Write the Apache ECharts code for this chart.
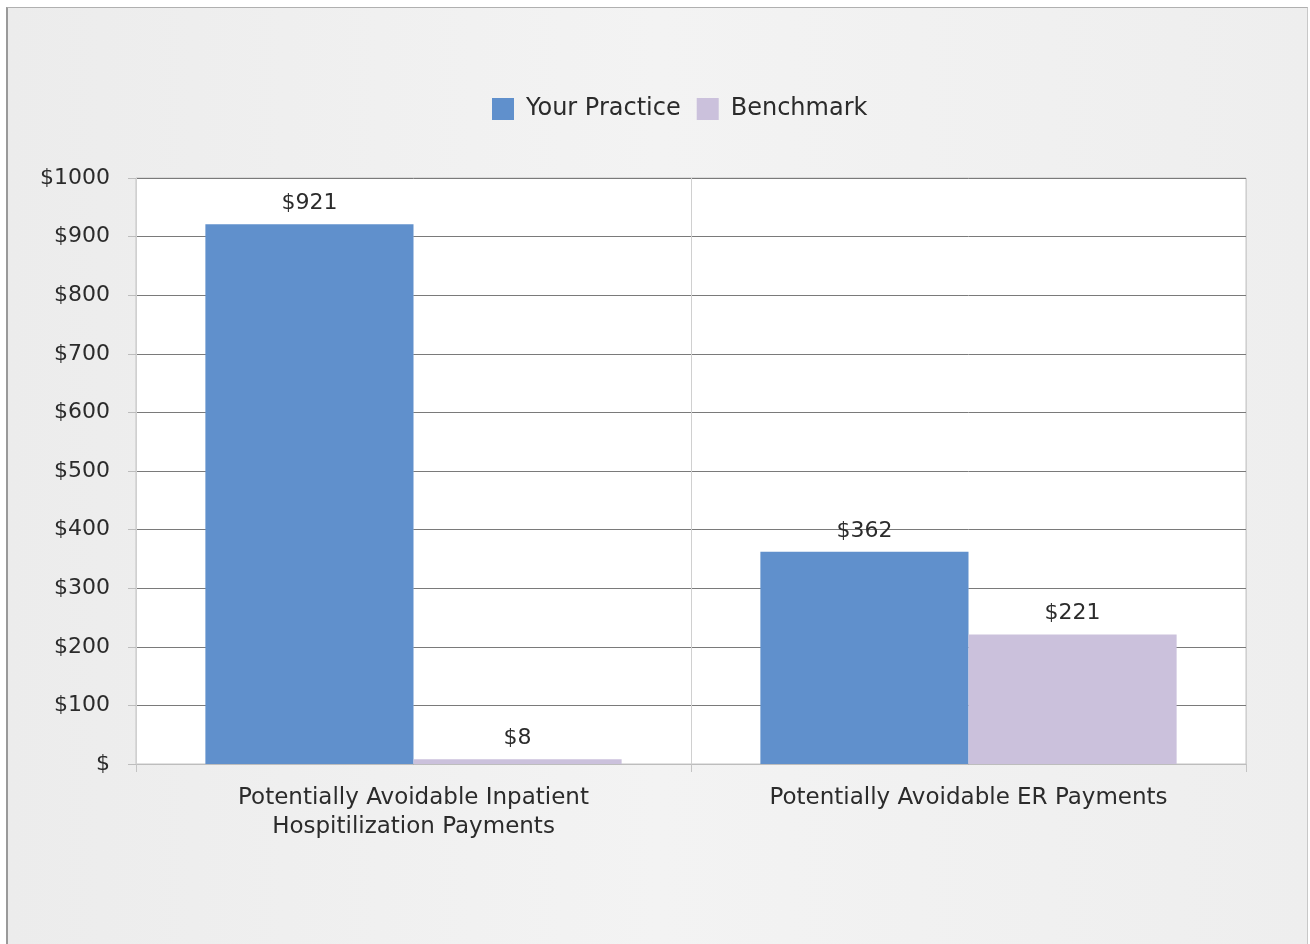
<!DOCTYPE html>
<html>
<head>
<meta charset="utf-8">
<script src="https://cdn.jsdelivr.net/npm/echarts@6/dist/echarts.min.js"></script>
<style>
html,body{margin:0;padding:0;background:#ffffff;}
#frame{position:absolute;left:6px;top:7px;width:1302px;height:945px;box-sizing:border-box;
  border-left:2px solid #9a9a9a;border-top:1px solid #b0b0b0;border-right:1px solid #c8c8c8;
  background:linear-gradient(90deg,#ececec 0%,#f3f3f3 50%,#eeeeee 100%);}
#chart{position:absolute;left:0;top:0;width:1310px;height:944px;}
</style>
</head>
<body>
<div id="frame"></div>
<div id="chart"></div>
<script>
var categories = ['Potentially Avoidable Inpatient\nHospitilization Payments', 'Potentially Avoidable ER Payments'];
var seriesNames = ['Your Practice', 'Benchmark'];
var yourPractice = [921, 362];
var benchmark = [8, 221];
var yTicks = [0, 100, 200, 300, 400, 500, 600, 700, 800, 900, 1000];

var FONT = 'DejaVu Sans';
var TXT = '#2b2b2b';
var chart = echarts.init(document.getElementById('chart'), null, {renderer: 'canvas'});
var labelOpt = {
  show: true, position: 'top', distance: 10,
  formatter: function (p) { return '$' + p.value; },
  color: TXT, fontFamily: FONT, fontSize: 22
};
chart.setOption({
  backgroundColor: 'transparent',
  animation: false,
  color: ['#6090cc', '#cbc1dc'],
  legend: {
    top: 92, left: 487, itemWidth: 22, itemHeight: 22, itemGap: 16,
    icon: 'rect',
    textStyle: {color: TXT, fontFamily: FONT, fontSize: 24, padding: [0, 0, 0, 7]},
    data: seriesNames
  },
  grid: {
    left: 136, right: 64, top: 178, bottom: 180,
    show: true, backgroundColor: '#ffffff', borderColor: '#c4c4c4', borderWidth: 1
  },
  xAxis: {
    type: 'category',
    data: categories,
    axisLine: {show: true, lineStyle: {color: '#bdbdbd'}},
    axisTick: {show: true, length: 8, lineStyle: {color: '#c4c4c4'}},
    splitLine: {show: true, lineStyle: {color: '#d0d0d0'}},
    axisLabel: {color: TXT, fontFamily: FONT, fontSize: 23, lineHeight: 29, margin: 20}
  },
  yAxis: {
    type: 'value',
    min: yTicks[0], max: yTicks[yTicks.length - 1], interval: 100,
    axisLine: {show: false},
    axisTick: {show: true, length: 8, lineStyle: {color: '#bdbdbd'}},
    splitLine: {show: true, lineStyle: {color: '#7a7a7a', width: 1}},
    axisLabel: {
      color: TXT, fontFamily: FONT, fontSize: 22, margin: 26,
      formatter: function (v) { return v === 0 ? '$' : '$' + v; }
    }
  },
  series: [
    {name: seriesNames[0], type: 'bar', data: yourPractice, barGap: '0%', barCategoryGap: '25%', label: labelOpt},
    {name: seriesNames[1], type: 'bar', data: benchmark, label: labelOpt}
  ]
});
</script>
</body>
</html>
